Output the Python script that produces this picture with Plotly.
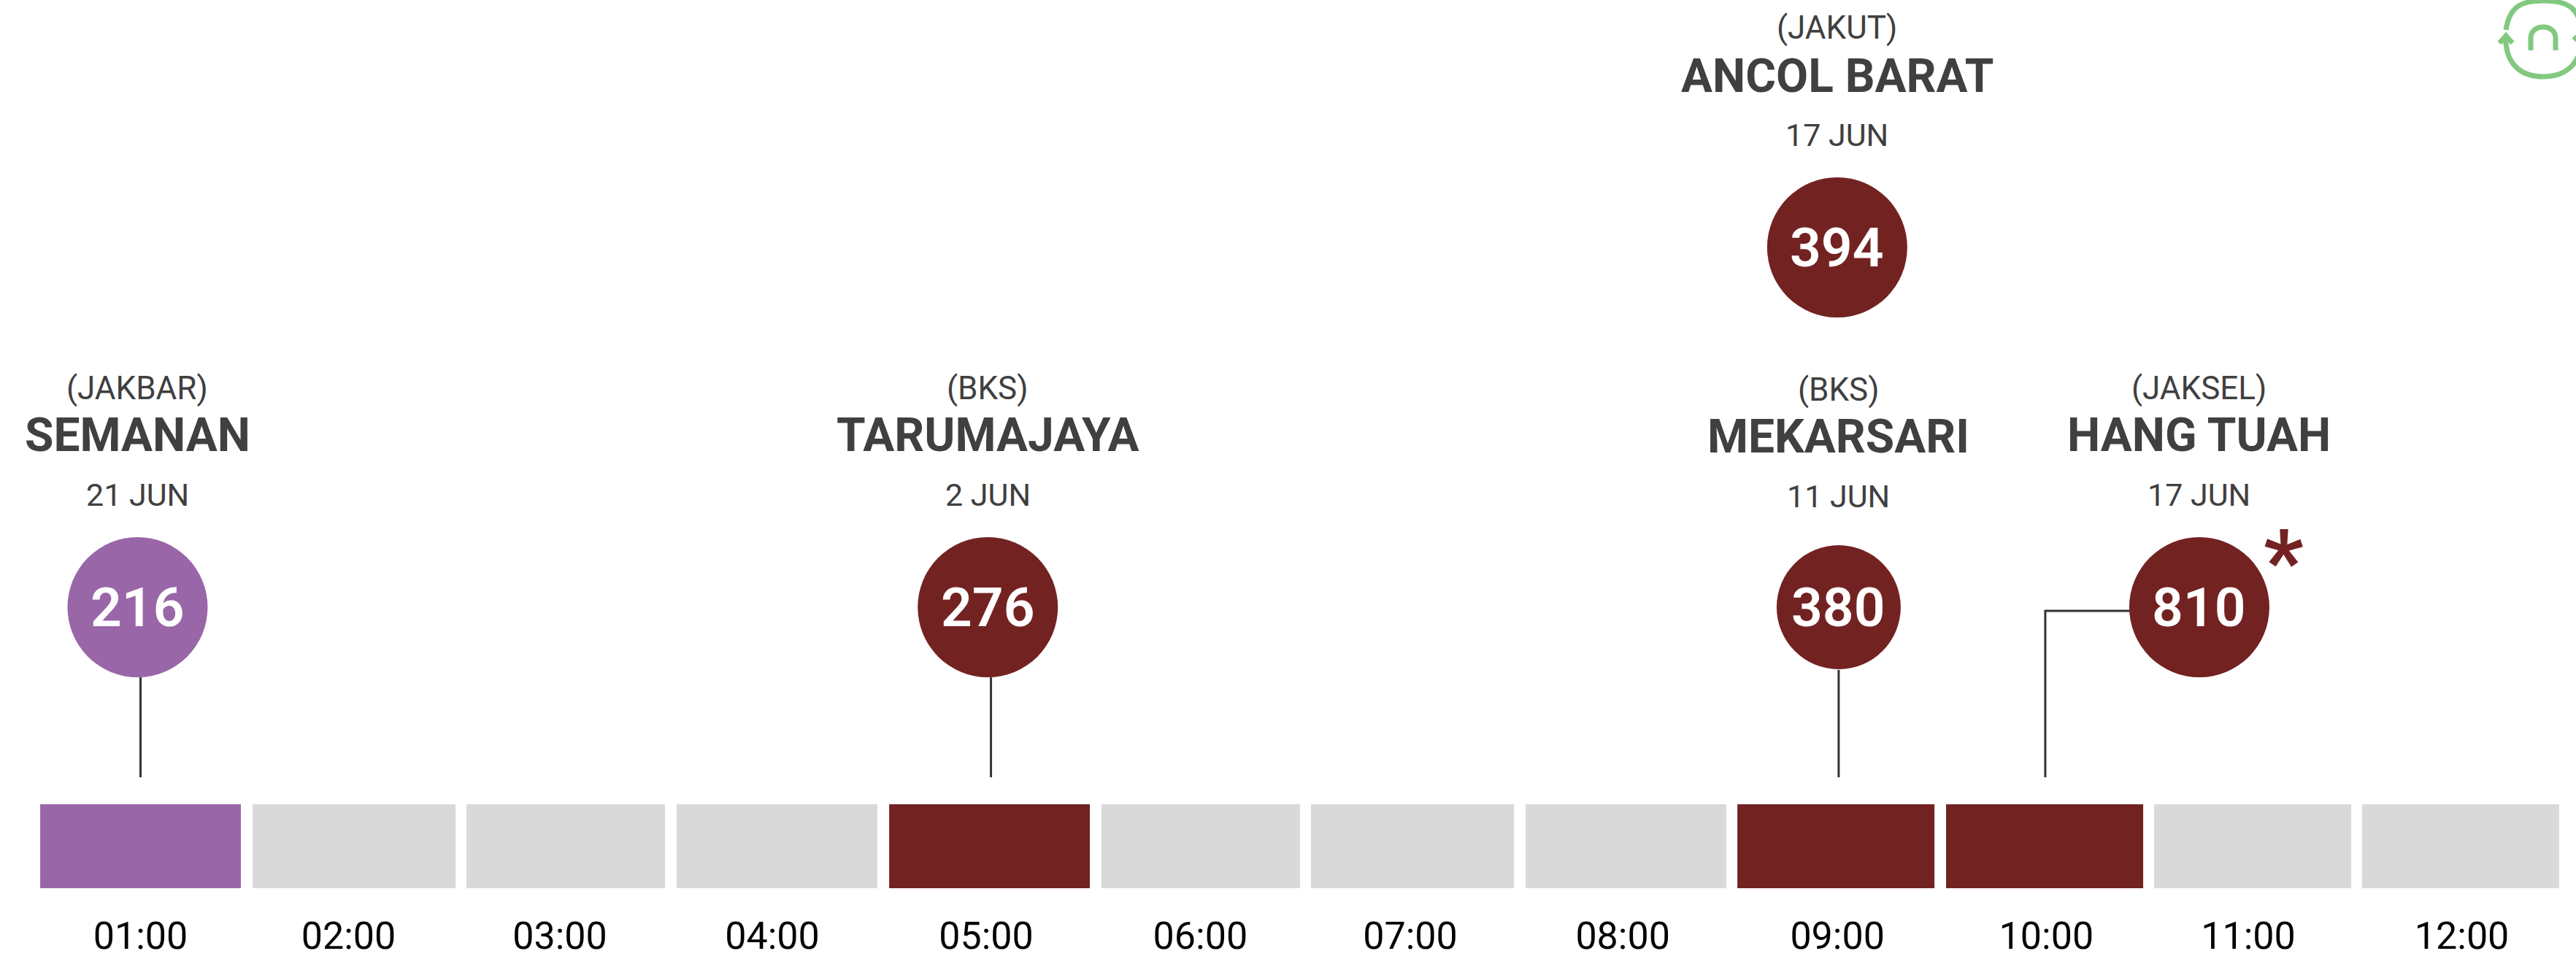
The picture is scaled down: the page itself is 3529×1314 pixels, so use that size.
import plotly.graph_objects as go

hours = ["01:00","02:00","03:00","04:00","05:00","06:00","07:00","08:00","09:00","10:00","11:00","12:00"]
hour_index = list(range(12))
bar_colors = ["#9966a8","#d9d9d9","#d9d9d9","#d9d9d9","#732222","#d9d9d9","#d9d9d9","#d9d9d9","#732222","#732222","#d9d9d9","#d9d9d9"]

values = [216, 276, 394, 380, 810]
regions = ["(JAKBAR)","(BKS)","(JAKUT)","(BKS)","(JAKSEL)"]
names = ["SEMANAN","TARUMAJAYA","ANCOL BARAT","MEKARSARI","HANG TUAH"]
dates = ["21 JUN","2 JUN","17 JUN","11 JUN","17 JUN"]

# layout (positions on the hour axis and the vertical layout scale)
slot_nudge = [0, .012, .015, .016, .023, .024, .027, .039, .034, .023, .009, -.006]
slot_width = [.951, .962, .941, .951, .951, .941, .962, .951, .934, .934, .934, .934]
tick_pos = [0, .986, 1.987, 2.994, 4.007, 5.022, 6.017, 7.024, 8.041, 9.031, 9.988, 11.0]
bubble_hour = [-0.014, 4.015, 8.04, 8.047, 9.756]
bubble_level = [832, 832, 339, 832, 832]
bubble_size = [192, 192, 192, 170, 192]
bubble_colors = ["#9966a8","#732222","#732222","#732222","#732222"]
region_y = [532, 532, 38, 534, 532]
name_y = [596, 596, 104, 598, 596]
date_y = [678, 678, 185, 680, 678]

INK = "#404040"
FONT = "Roboto"
fig = go.Figure()

fig.add_trace(go.Bar(x=[h + n for h, n in zip(hour_index, slot_nudge)], y=[115]*12, base=1102, width=slot_width,
                     marker=dict(color=bar_colors, line_width=0), hoverinfo="skip", showlegend=False))

for hx, top in [(0, 928), (4.03, 928), (8.047, 918)]:
    fig.add_trace(go.Scatter(x=[hx, hx], y=[top, 1065], mode="lines", line=dict(color="#333333", width=3),
                             hoverinfo="skip", showlegend=False))
fig.add_trace(go.Scatter(x=[9.026, 9.026, 9.6], y=[1065, 837, 837], mode="lines", line=dict(color="#333333", width=3),
                         hoverinfo="skip", showlegend=False))

fig.add_trace(go.Scatter(x=bubble_hour, y=bubble_level, mode="markers",
                         marker=dict(size=bubble_size, color=bubble_colors, opacity=1, line_width=0),
                         hoverinfo="skip", showlegend=False))

for i in range(5):
    fig.add_annotation(x=bubble_hour[i], y=bubble_level[i], text=str(values[i]), showarrow=False, xanchor="center",
                       yanchor="middle", font=dict(family=FONT, size=75, color="white", weight=600))
    for txt, y, size, weight in [(regions[i], region_y[i], 44, 400), (names[i], name_y[i], 64, 700), (dates[i], date_y[i], 43, 400)]:
        fig.add_annotation(x=bubble_hour[i], y=y, text=txt, showarrow=False, xanchor="center", yanchor="middle",
                           font=dict(family=FONT, size=size, color=INK, weight=weight))

fig.add_annotation(x=10.155, y=770, text="*", showarrow=False, xanchor="center", yanchor="middle",
                   font=dict(family=FONT, size=120, color="#732222", weight=700))

# logo (cropped by the page edge)
G = "#82c97f"
W = 3529; H = 1217
def px(x): return x / W
def py(y): return 1 - y / H
logo = [
    f"M {px(3433)} {py(41)} C {px(3438)} {py(8)} {px(3455)} {py(1)} {px(3484)} {py(1)} C {px(3515)} {py(1)} {px(3532)} {py(8)} {px(3537)} {py(41)}",
    f"M {px(3433)} {py(50)} L {px(3433)} {py(60)} C {px(3436)} {py(90)} {px(3455)} {py(105)} {px(3484)} {py(105)} C {px(3513)} {py(105)} {px(3532)} {py(90)} {px(3537)} {py(60)}",
    f"M {px(3467)} {py(69)} L {px(3467)} {py(52)} C {px(3467)} {py(32)} {px(3501)} {py(32)} {px(3501)} {py(52)} L {px(3501)} {py(69)}",
    f"M {px(3424)} {py(59)} L {px(3433)} {py(49)} L {px(3442)} {py(59)}",
    f"M {px(3526)} {py(50)} L {px(3537)} {py(61)}",
]
shapes = [dict(type="path", xref="paper", yref="paper", path=p, line=dict(color=G, width=7), fillcolor="rgba(0,0,0,0)") for p in logo]

fig.update_layout(
    width=3529, height=1314, margin=dict(l=0, r=0, t=0, b=97, pad=0), autosize=False,
    paper_bgcolor="white", plot_bgcolor="white", showlegend=False, shapes=shapes,
    xaxis=dict(range=[-0.6659, 11.541], tickmode="array", tickvals=tick_pos, ticktext=hours,
               showgrid=False, zeroline=False, showline=False, ticks="outside", ticklen=20, tickcolor="rgba(0,0,0,0)",
               tickfont=dict(family=FONT, size=52, color="#000000", weight=400), fixedrange=True, automargin=False),
    yaxis=dict(range=[1217, 0], visible=False, fixedrange=True),
)
fig.write_html("out.html", config={"displayModeBar": False}, post_script="document.body.style.margin='0';")
